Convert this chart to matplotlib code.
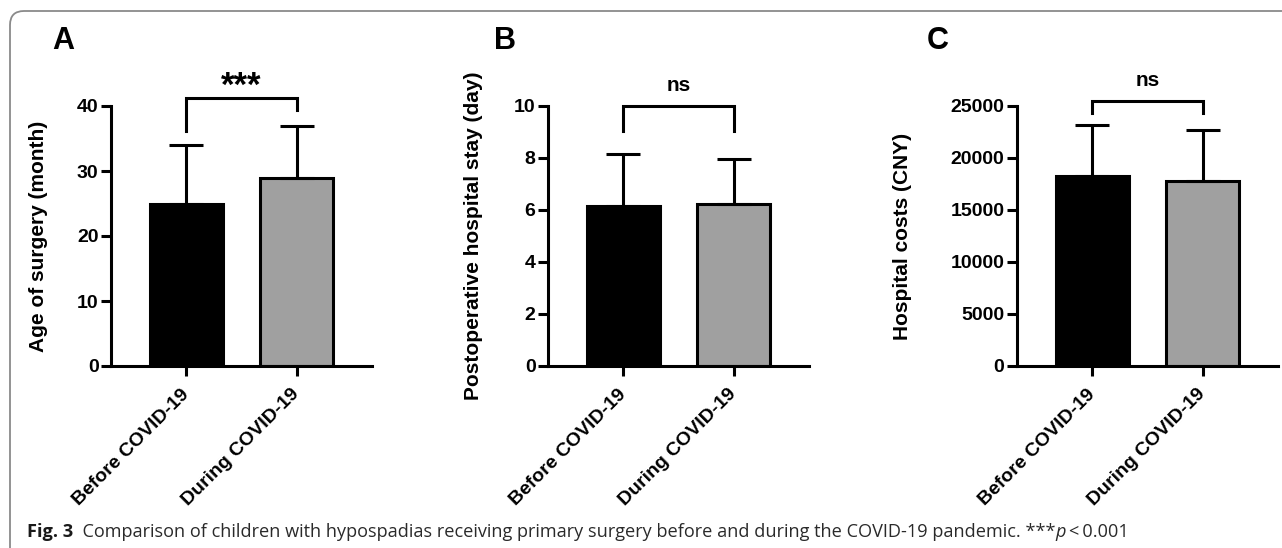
import matplotlib
matplotlib.use("Agg")
import matplotlib.pyplot as plt
from matplotlib.patches import FancyBboxPatch
from matplotlib.transforms import IdentityTransform
from matplotlib.text import Annotation

# ---------------- data ----------------
groups = ["Before COVID-19", "During COVID-19"]
age_mean = [25.0, 29.0]
age_sd = [9.0, 8.0]
stay_mean = [6.15, 6.22]
stay_sd = [2.02, 1.73]
cost_mean = [18300, 17800]
cost_sd = [4900, 4900]
sig_labels = ["***", "ns", "ns"]
panel_letters = ["A", "B", "C"]
ylabels = ["Age of surgery (month)", "Postoperative hospital stay (day)", "Hospital costs (CNY)"]
yticks_list = [[0, 10, 20, 30, 40], [0, 2, 4, 6, 8, 10], [0, 5000, 10000, 15000, 20000, 25000]]
bar_colors = ["#000000", "#a0a0a0"]
caption_bold = "Fig. 3"
caption_text = "  Comparison of children with hypospadias receiving primary surgery before and during the COVID-19 pandemic. ***"
caption_italic = "p"
caption_tail = "\u2009<\u20090.001"

# ---------------- layout ----------------
W, H = 1282, 548
fig = plt.figure(figsize=(W / 100, H / 100), dpi=100)
fig.patch.set_facecolor("white")

# frame
frame = FancyBboxPatch((10, -60), 1400, (H - 11) + 60,
                       boxstyle="round,pad=0,rounding_size=14",
                       transform=IdentityTransform(), facecolor="none",
                       edgecolor="#8a8a8a", linewidth=1.3, zorder=0)
fig.patches.append(frame)

lefts_px = [111, 548, 1017]
ylabel_x_px = [38, 473.5, 902]
letter_x_px = [52, 494, 927]
# bracket: (leg bottom left, leg bottom right, top) in data units
brackets = [(36.2, 39.4, 41.2), (9.03, 9.03, 10.0), (24320, 24320, 25480)]
bottom_px, top_px = 366, 106
ax_w = 261

means = [age_mean, stay_mean, cost_mean]
sds = [age_sd, stay_sd, cost_sd]

FONT = "Liberation Sans"
x = [0, 1]
for i in range(3):
    ax = fig.add_axes([lefts_px[i] / W, 1 - bottom_px / H, ax_w / W, (bottom_px - top_px) / H])
    yt = yticks_list[i]
    ax.bar(x, means[i], width=0.66, color=bar_colors, edgecolor="black", linewidth=2.2, zorder=2)
    ax.errorbar(x, means[i], yerr=[[0, 0], sds[i]], fmt="none", ecolor="black",
                elinewidth=2.2, capsize=12, capthick=2.2, zorder=3)
    ax.set_xlim(-0.68, 1.68)
    ax.set_ylim(0, yt[-1])
    ax.set_yticks(yt)
    ax.set_yticklabels([str(v) for v in yt], fontsize=14, fontweight="bold", fontfamily=FONT)
    ax.set_xticks(x)
    ax.set_xticklabels(groups, rotation=45, ha="right", va="center", rotation_mode="anchor",
                       fontsize=14, fontweight="bold", fontfamily=FONT)
    ax.tick_params(axis="both", width=2.2, length=7.5, color="black")
    ax.tick_params(axis="y", pad=1.5)
    ax.tick_params(axis="x", pad=11)
    for s in ["top", "right"]:
        ax.spines[s].set_visible(False)
    for s in ["left", "bottom"]:
        ax.spines[s].set_linewidth(2.2)
        ax.spines[s].set_capstyle("projecting")
    ax.set_ylabel(ylabels[i], fontsize=15, fontweight="bold", fontfamily=FONT, va="center")
    ax.yaxis.set_label_coords((ylabel_x_px[i] - lefts_px[i]) / ax_w, 0.5)
    ax.patch.set_visible(False)

    # significance bracket
    l, r, t = brackets[i]
    ax.plot([0, 0, 1, 1], [l, t, t, r], color="black", lw=2.2, clip_on=False,
            solid_joinstyle="miter", zorder=4)
    if sig_labels[i] == "***":
        off, fs = 2, 25
    else:
        off, fs = 11, 15
    ax.annotate(sig_labels[i], xy=(0.5, t), xytext=(0, off), textcoords="offset points",
                ha="center", va="baseline", fontsize=fs, fontweight="bold",
                fontfamily=FONT, annotation_clip=False)

    fig.text(letter_x_px[i] / W, 1 - 41 / H, panel_letters[i], fontsize=22,
             fontweight="bold", fontfamily=FONT, ha="left", va="center")

# caption
cap_fs = 13.1
cap_font = "Open Sans"
cap_col = "#2a2a2a"
t0 = fig.text(27 / W, 1 - 537 / H, caption_bold, fontsize=cap_fs, fontweight="bold",
              fontfamily=cap_font, color="#1a1a1a", ha="left", va="baseline")
a1 = fig.add_artist(Annotation(caption_text, xy=(1, 0), xycoords=t0,
                    fontsize=cap_fs, fontfamily=cap_font, color=cap_col, ha="left", va="bottom"))
a2 = fig.add_artist(Annotation(caption_italic, xy=(1, 0), xycoords=a1,
                    fontsize=cap_fs, fontfamily=cap_font, style="italic", color=cap_col,
                    ha="left", va="bottom"))
a3 = fig.add_artist(Annotation(caption_tail, xy=(1, 0), xycoords=a2,
                    fontsize=cap_fs, fontfamily=cap_font, color=cap_col, ha="left", va="bottom"))

fig.savefig("out.png", dpi=100)
